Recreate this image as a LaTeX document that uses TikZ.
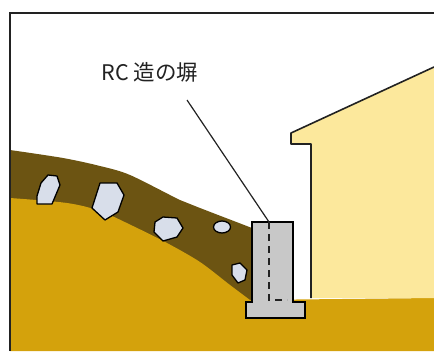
\documentclass[tikz,border=0pt]{standalone}
\usepackage{fontspec}
\newfontfamily\jpfont{Noto Sans CJK JP}
\usetikzlibrary{positioning}

\definecolor{soil}{HTML}{D4A20C}
\definecolor{fillsoil}{HTML}{6C5412}
\definecolor{house}{HTML}{FCE89C}
\definecolor{stone}{HTML}{D8DEEA}
\definecolor{concrete}{HTML}{C8C8C8}
\definecolor{ink}{HTML}{222222}

\begin{document}
\begin{tikzpicture}
  [x=1pt,y=-1pt,
   rock/.style={draw=black,fill=stone,line width=1.3pt,line join=round},
   wallbody/.style={draw=black,fill=concrete,line width=1.8pt},
   rebar/.style={draw=ink,line width=2pt,dash pattern=on 7pt off 5pt},
   frameline/.style={draw=ink,line width=2.4pt}]
  \useasboundingbox (0,0) rectangle (434,351);

  % soil and the filled-up layer on the slope
  \fill[fillsoil] plot[smooth] coordinates {(10,150) (63,158) (100,166) (130,175) (180,200) (200,208) (252,228)}
    -- (252,320) -- (10,320) -- cycle;
  \fill[soil] plot[smooth] coordinates {(10,198) (67,203) (100,211) (133,226) (167,243) (200,262) (230,285) (250,300)}
    -- (434,298) -- (434,351) -- (10,351) -- cycle;

  % stones in the fill
  \draw[rock] (41,183) -- (48,175) -- (57,176) -- (60,185) -- (52,204) -- (37,204) -- (37,196) -- cycle;
  \draw[rock] (100,183) -- (117,183) -- (124,195) -- (118,212) -- (105,220) -- (92,208) -- cycle;
  \draw[rock] (155,222) -- (163,217) -- (177,218) -- (183,228) -- (177,237) -- (163,241) -- (154,232) -- cycle;
  \draw[rock] (222,227) ellipse [x radius=8.5, y radius=6];
  \draw[rock] (232,265) -- (240,263) -- (247,270) -- (245,280) -- (238,283) -- (232,275) -- cycle;

  % house
  \fill[house] (434,67) -- (291,133) -- (291,144) -- (311,144) -- (311,298) -- (434,298) -- cycle;
  \draw[ink,line width=1.6pt,line join=round] (434,67) -- (291,133) -- (291,144) -- (311,144) -- (311,298);

  % RC wall with footing
  \draw[wallbody] (252,222) -- (252,302) -- (246,302) -- (246,318) -- (305,318) -- (305,302)
    -- (293,302) -- (293,222) -- cycle;
  \coordinate (bartop) at (269,222);
  \coordinate (barfoot) at (269,300);
  \coordinate (barend) at (287,300);
  \draw[rebar] (bartop) -- (barfoot) -- (barend);

  % label and leader
  \node[font=\jpfont\fontsize{21.5}{26}\selectfont,text=ink] (wall) at (150,72) {RC 造の塀};
  \coordinate (lead) at (187,100);
  \draw[ink,line width=1.2pt] (lead) -- (bartop);

  % frame
  \draw[frameline] (10,351) -- (10,13) -- (434,13);
\end{tikzpicture}
\end{document}
